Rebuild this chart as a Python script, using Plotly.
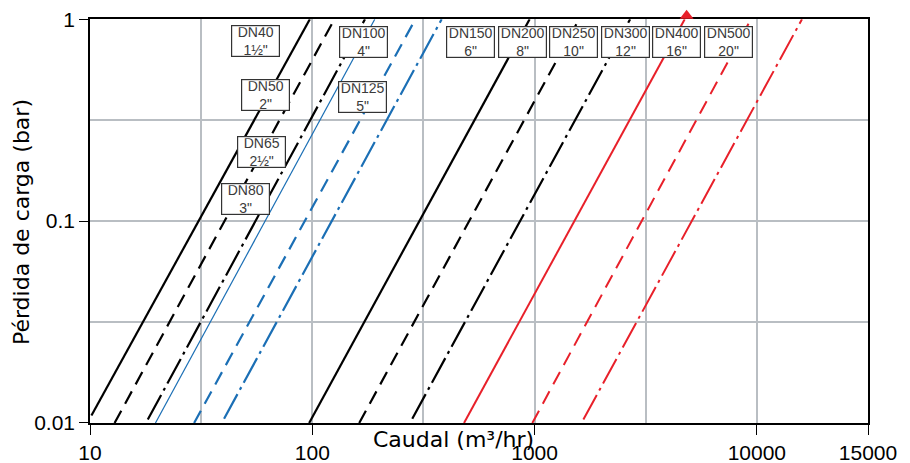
import plotly.graph_objects as go

# ---- data ----
dn_names = ["DN40", "DN50", "DN65", "DN80", "DN100", "DN125",
            "DN150", "DN200", "DN250", "DN300", "DN400", "DN500"]
inch_labels = ['1½"', '2"', '2½"', '3"', '4"', '5"',
               '6"', '8"', '10"', '12"', '16"', '20"']
# flow (m3/hr) at the lower and upper end of each curve
q_low = [10.15, 12.9, 18.2, 19.7, 29.4, 40.1, 96.8, 162.6, 281.7, 481.5, 977, 1658]
q_high = [97.5, 125.8, 172.6, 191.0, 291.0, 382.0, 950, 1586, 2691, 4736, 9409, 15960]
# pressure loss (bar) at those ends
p_low = [0.0109, 0.0100, 0.0104, 0.0100, 0.0100, 0.0105,
         0.0100, 0.0100, 0.0105, 0.0100, 0.0100, 0.0104]
p_high = [1, 1, 1, 1, 1, 1, 1, 1, 1, 1, 1, 1]

x_tick_vals = [10, 100, 1000, 10000, 10 ** 4.5]
x_tick_text = ["10", "100", "1000", "10000", "15000"]
y_tick_vals = [0.01, 0.1, 1]
y_tick_text = ["0.01", "0.1", "1"]
x_grid_vals = [10 ** 1.5, 100, 10 ** 2.5, 1000, 10 ** 3.5, 10000]
y_grid_vals = [10 ** -1.5, 0.1, 10 ** -0.5]

# red marker just above the top frame
marker_q = [4831]
marker_p = [1.041]

# ---- styles ----
BLACK = "#000000"
BLUE = "#1B6FB5"
RED = "#E8202A"
DASH = "14px,8px"
DASHDOT = "28px,5px,3px,5px"
line_colors = [BLACK, BLACK, BLACK, BLUE, BLUE, BLUE,
               BLACK, BLACK, BLACK, RED, RED, RED]
line_dashes = ["solid", DASH, DASHDOT] * 4
line_widths = [2.2, 2.2, 2.2, 1.2, 2.2, 2.2, 2.2, 2.2, 2.2, 2.0, 2.0, 2.0]

# label box centres (log10 x, log10 y)
label_pos = [(1.746, -0.107), (1.790, -0.376), (1.773, -0.659), (1.699, -0.889),
             (2.229, -0.112), (2.225, -0.386), (2.713, -0.112), (2.945, -0.112),
             (3.177, -0.112), (3.408, -0.112), (3.640, -0.112), (3.874, -0.112)]

X_RANGE = [1, 4.5]
Y_RANGE = [-2, 0]
Y_DOMAIN_TOP = 0.973           # main plot leaves a strip above for the marker
Y2_TOP = Y_RANGE[0] + (Y_RANGE[1] - Y_RANGE[0]) / Y_DOMAIN_TOP

fig = go.Figure()
for i, name in enumerate(dn_names):
    fig.add_trace(go.Scatter(
        x=[q_low[i], q_high[i]], y=[p_low[i], p_high[i]],
        mode="lines", name=name, showlegend=False,
        line=dict(color=line_colors[i], width=line_widths[i], dash=line_dashes[i]),
    ))

fig.add_trace(go.Scatter(
    x=marker_q, y=marker_p, mode="markers", showlegend=False,
    xaxis="x2", yaxis="y2",
    marker=dict(symbol="triangle-up", size=12, color=RED, line=dict(width=0)),
    cliponaxis=False,
))

for i, name in enumerate(dn_names):
    lx, ly = label_pos[i]
    fig.add_annotation(
        x=lx, y=ly, xref="x", yref="y",
        text=f"{name}<br>{inch_labels[i]}", showarrow=False,
        font=dict(family="Liberation Sans", size=14, color="#3a3a3a"),
        bgcolor="white", bordercolor="#333333", borderwidth=1.2, borderpad=1,
        width=45, height=28, align="center", valign="middle",
    )

fig.add_annotation(
    x=0.467, y=-0.0402, xref="paper", yref="paper",
    text="Caudal (m³/hr)", showarrow=False,
    font=dict(family="DejaVu Sans", size=22, color="black"),
    xanchor="center", yanchor="middle",
)
fig.add_annotation(
    x=-0.0888, y=0.484, xref="paper", yref="paper",
    text="Pérdida de carga (bar)", showarrow=False, textangle=-90,
    font=dict(family="DejaVu Sans", size=22, color="black"),
    xanchor="center", yanchor="middle",
)

GRID = "#b9bec3"
fig.update_layout(
    width=910, height=463,
    margin=dict(l=82, r=50, t=0, b=48, autoexpand=False),
    paper_bgcolor="white", plot_bgcolor="rgba(0,0,0,0)",
    xaxis=dict(
        type="log", range=X_RANGE, automargin=False, anchor="y",
        tickmode="array", tickvals=x_tick_vals, ticktext=x_tick_text,
        ticks="outside", ticklen=10, tickwidth=1.3, tickcolor="black",
        tickfont=dict(family="Liberation Sans", size=21, color="black"),
        showgrid=False, zeroline=False,
        showline=True, linecolor="black", linewidth=1.5, mirror=True,
        minor=dict(tickmode="array", tickvals=x_grid_vals, showgrid=True,
                   gridcolor=GRID, gridwidth=1.5, ticks=""),
    ),
    yaxis=dict(
        type="log", range=Y_RANGE, domain=[0, Y_DOMAIN_TOP], automargin=False,
        anchor="x", ticklabeloverflow="allow",
        tickmode="array", tickvals=y_tick_vals, ticktext=y_tick_text,
        ticks="outside", ticklen=9, tickwidth=1.3, tickcolor="black",
        tickfont=dict(family="Liberation Sans", size=21, color="black"),
        showgrid=False, zeroline=False,
        showline=True, linecolor="black", linewidth=1.5, mirror=True,
        minor=dict(tickmode="array", tickvals=y_grid_vals, showgrid=True,
                   gridcolor=GRID, gridwidth=1.5, ticks=""),
    ),
    xaxis2=dict(type="log", range=X_RANGE, anchor="y2", visible=False,
                showgrid=False, zeroline=False, automargin=False),
    yaxis2=dict(type="log", range=[Y_RANGE[0], Y2_TOP], domain=[0, 1],
                anchor="x2", visible=False, showgrid=False, zeroline=False,
                automargin=False),
)

fig.write_html("out.html")
